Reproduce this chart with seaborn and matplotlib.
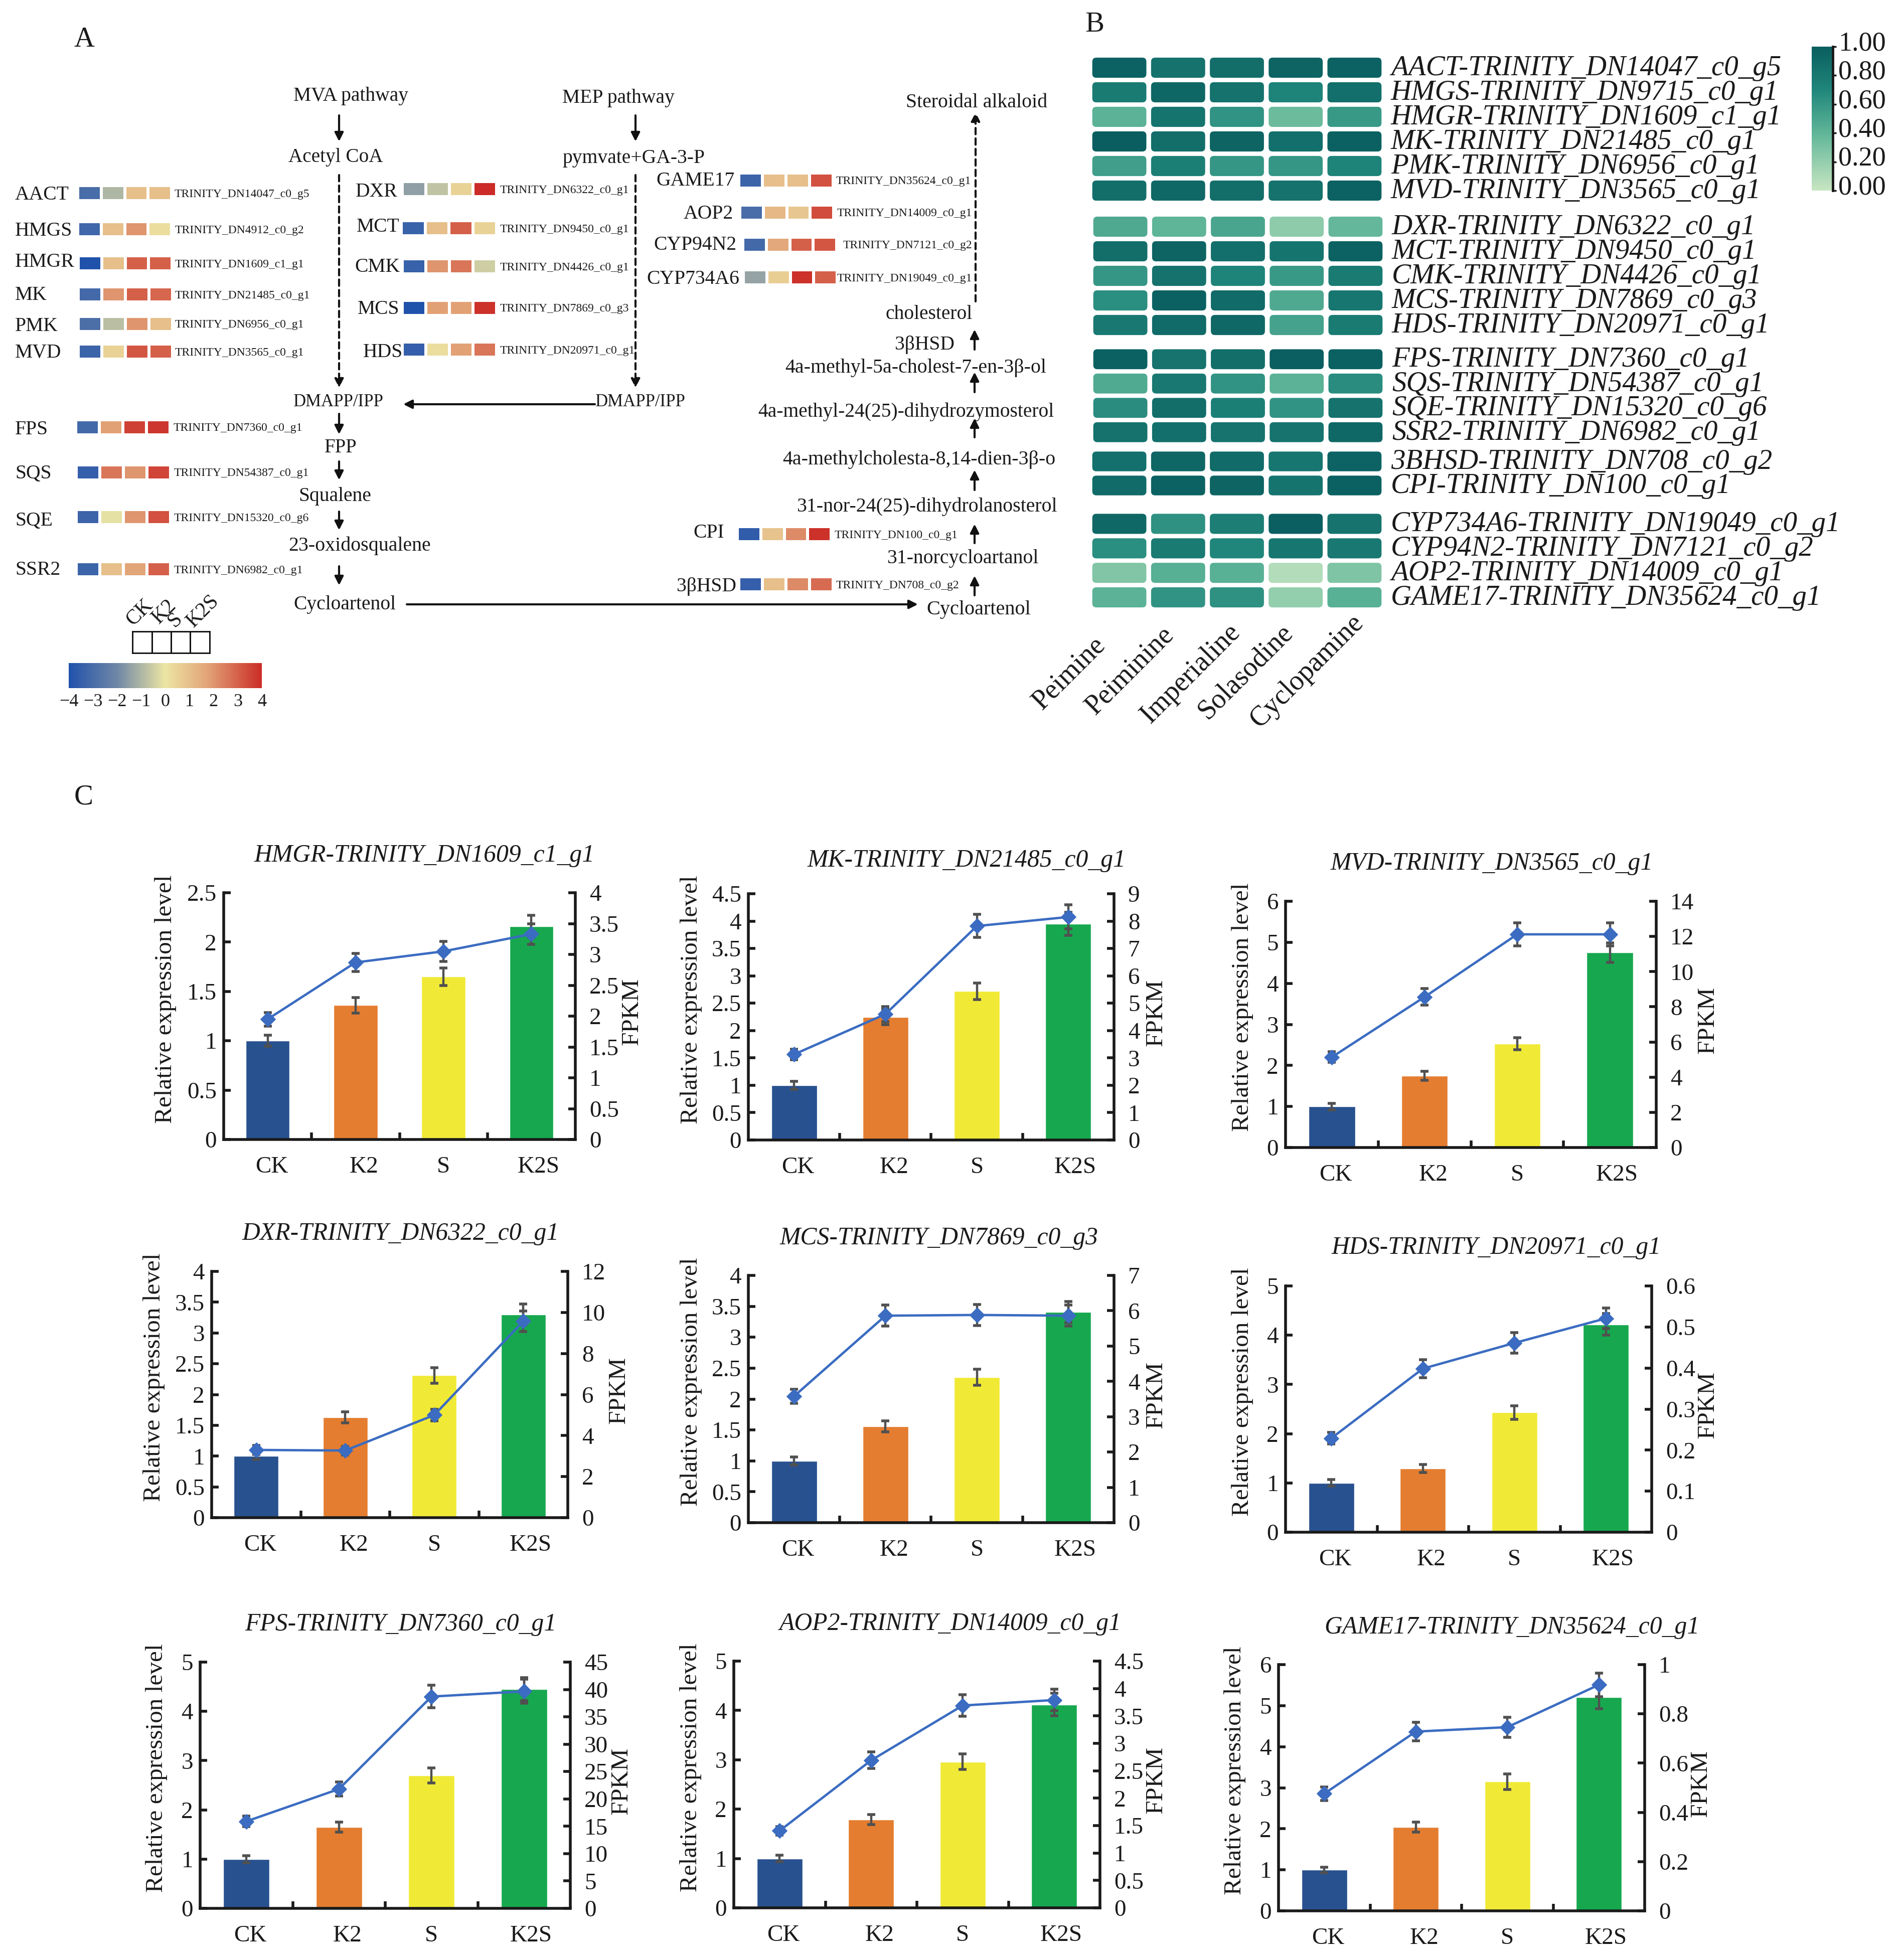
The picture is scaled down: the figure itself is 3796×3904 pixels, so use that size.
import matplotlib
matplotlib.use("Agg")
import matplotlib.pyplot as plt
import numpy as np
import seaborn as sns
from matplotlib.colors import LinearSegmentedColormap
from matplotlib.patches import FancyBboxPatch
from matplotlib.transforms import ScaledTranslation

W, H = 3796, 3904
DPI = 100

sns.set_theme(style="ticks")
plt.rcParams["font.family"] = ["Liberation Serif", "DejaVu Serif"]
plt.rcParams["text.color"] = "#1a1a1a"
plt.rcParams["axes.labelcolor"] = "#1a1a1a"
plt.rcParams["xtick.color"] = "#1a1a1a"
plt.rcParams["ytick.color"] = "#1a1a1a"

# panel A: z-scores CK, K2, S, K2S
strip_names = ["AACT", "HMGS", "HMGR", "MK", "PMK", "MVD", "DXR", "MCT", "CMK", "MCS", "HDS",
               "FPS", "SQS", "SQE", "SSR2", "GAME17", "AOP2", "CYP94N2", "CYP734A6", "CPI", "3βHSD"]
strip_ids = ["TRINITY_DN14047_c0_g5", "TRINITY_DN4912_c0_g2", "TRINITY_DN1609_c1_g1",
             "TRINITY_DN21485_c0_g1", "TRINITY_DN6956_c0_g1", "TRINITY_DN3565_c0_g1",
             "TRINITY_DN6322_c0_g1", "TRINITY_DN9450_c0_g1", "TRINITY_DN4426_c0_g1",
             "TRINITY_DN7869_c0_g3", "TRINITY_DN20971_c0_g1", "TRINITY_DN7360_c0_g1",
             "TRINITY_DN54387_c0_g1", "TRINITY_DN15320_c0_g6", "TRINITY_DN6982_c0_g1",
             "TRINITY_DN35624_c0_g1", "TRINITY_DN14009_c0_g1", "TRINITY_DN7121_c0_g2",
             "TRINITY_DN19049_c0_g1", "TRINITY_DN100_c0_g1", "TRINITY_DN708_c0_g2"]
strip_values = [[-3, -1, 1, 1], [-3.2, 1, 2, 0.2], [-4, 1, 3, 3], [-3.1, 2, 3, 2.9],
                [-2.9, -0.8, 2, 1], [-3.3, 0.5, 3.2, 3], [-1.5, -0.7, 0.5, 4], [-3.4, 1, 3, 0.5],
                [-3.4, 2, 2.6, -0.5], [-4, 1.8, 1.8, 3.9], [-3.5, 0.2, 1.8, 2.6],
                [-3.1, 1.8, 3.6, 3.8], [-3.5, 2.6, 2, 3.5], [-3.3, -0.1, 2, 3.3],
                [-3.3, 1, 1.7, 3], [-3.3, 1, 1, 3.3], [-3, 1.2, 0.8, 3.4], [-3.1, 1.6, 3, 3.2],
                [-1.4, 0.6, 3.9, 3], [-3.6, 0.9, 2.2, 3.9], [-3.5, 1, 2.2, 2.8]]

# strip left, strip right, strip y, name x, name y, id x
strip_layout = [(157, 340, 385, 30, 385, 348), (157, 340, 457, 30, 457, 349), (158, 341, 525, 30, 520, 349),
                (158, 342, 587, 30, 586, 349), (158, 342, 646, 30, 648, 349), (158, 342, 701, 30, 701, 349),
                (804, 988, 377, 709, 379, 997), (802, 988, 455, 711, 450, 997), (804, 988, 531, 707, 529, 997),
                (804, 988, 614, 713, 613, 997), (804, 988, 697, 724, 700, 997),
                (153, 337, 852, 30, 854, 346), (154, 338, 942, 30, 941, 347), (154, 338, 1031, 30, 1036, 347),
                (154, 338, 1135, 30, 1134, 347),
                (1475, 1659, 360, 1465, 358, 1667), (1477, 1660, 424, 1462, 423, 1669),
                (1483, 1666, 488, 1468, 486, 1681), (1484, 1667, 553, 1474, 553, 1669),
                (1472, 1655, 1065, 1444, 1059, 1664), (1475, 1659, 1165, 1468, 1167, 1667)]

# panel B heat map groups
compounds = ["Peimine", "Peiminine", "Imperialine", "Solasodine", "Cyclopamine"]
compound_shift = [(-55, 25), (-35, 5), (-20, 0), (-32, 0), (-8, -20)]
group1_labels = ["AACT-TRINITY_DN14047_c0_g5", "HMGS-TRINITY_DN9715_c0_g1", "HMGR-TRINITY_DN1609_c1_g1",
                 "MK-TRINITY_DN21485_c0_g1", "PMK-TRINITY_DN6956_c0_g1", "MVD-TRINITY_DN3565_c0_g1"]
group1_values = [[.97, .85, .88, .95, .97], [.78, .93, .85, .72, .87], [.42, .83, .62, .35, .58],
                 [1.0, .88, .95, .87, .98], [.55, .75, .6, .6, .72], [.88, .92, .88, .85, .97]]
group2_labels = ["DXR-TRINITY_DN6322_c0_g1", "MCT-TRINITY_DN9450_c0_g1", "CMK-TRINITY_DN4426_c0_g1",
                 "MCS-TRINITY_DN7869_c0_g3", "HDS-TRINITY_DN20971_c0_g1"]
group2_values = [[.48, .4, .5, .22, .38], [.88, .95, .87, .83, .97], [.6, .85, .72, .58, .78],
                 [.65, .98, .9, .48, .82], [.8, .9, .92, .52, .78]]
group3_labels = ["FPS-TRINITY_DN7360_c0_g1", "SQS-TRINITY_DN54387_c0_g1",
                 "SQE-TRINITY_DN15320_c0_g6", "SSR2-TRINITY_DN6982_c0_g1"]
group3_values = [[.98, .84, .88, .99, .98], [.47, .8, .62, .42, .66],
                 [.66, .88, .75, .62, .85], [.85, .87, .84, .84, .92]]
group4_labels = ["3BHSD-TRINITY_DN708_c0_g2", "CPI-TRINITY_DN100_c0_g1"]
group4_values = [[.86, .93, .9, .82, .96], [.9, .97, .95, .83, .98]]
group5_labels = ["CYP734A6-TRINITY_DN19049_c0_g1", "CYP94N2-TRINITY_DN7121_c0_g2",
                 "AOP2-TRINITY_DN14009_c0_g1", "GAME17-TRINITY_DN35624_c0_g1"]
group5_values = [[.92, .63, .76, .99, .84], [.65, .78, .7, .82, .8],
                 [.27, .44, .43, .08, .28], [.42, .62, .63, .2, .43]]
# labels, values, left, right, top, bottom (px)
heat_groups = [(group1_labels, group1_values, 2173, 2759, 110.5, 404.5),
               (group2_labels, group2_values, 2175, 2761, 427.5, 672.5),
               (group3_labels, group3_values, 2175, 2761, 692, 886),
               (group4_labels, group4_values, 2173, 2759, 896, 992),
               (group5_labels, group5_values, 2173, 2759, 1020, 1215.5)]

# panel C
groups = ["CK", "K2", "S", "K2S"]
bar_colors = ["#28518f", "#e47d30", "#f0ea36", "#17a84f"]

hmgr_bar, hmgr_bar_err = [1, 1.36, 1.65, 2.16], [.055, .077, .09, .11]
hmgr_fpkm, hmgr_fpkm_err = [1.95, 2.87, 3.05, 3.33], [.11, .15, .16, .165]
mk_bar, mk_bar_err = [1, 2.25, 2.72, 3.95], [.07, .14, .15, .215]
mk_fpkm, mk_fpkm_err = [3.13, 4.6, 7.82, 8.15], [.19, .28, .42, .44]
mvd_bar, mvd_bar_err = [1, 1.75, 2.53, 4.75], [.08, .11, .15, .24]
mvd_fpkm, mvd_fpkm_err = [5.14, 8.56, 12.12, 12.12], [.3, .47, .65, .65]
dxr_bar, dxr_bar_err = [1, 1.63, 2.31, 3.3], [.054, .09, .125, .17]
dxr_fpkm, dxr_fpkm_err = [3.3, 3.27, 5.0, 9.57], [.22, .21, .29, .51]
mcs_bar, mcs_bar_err = [1, 1.56, 2.35, 3.41], [.066, .09, .13, .17]
mcs_fpkm, mcs_fpkm_err = [3.58, 5.86, 5.88, 5.86], [.2, .3, .3, .3]
hds_bar, hds_bar_err = [1, 1.29, 2.43, 4.22], [.067, .08, .14, .22]
hds_fpkm, hds_fpkm_err = [.229, .3985, .461, .521], [.0137, .022, .025, .025]
fps_bar, fps_bar_err = [1, 1.65, 2.7, 4.45], [.07, .10, .155, .23]
fps_fpkm, fps_fpkm_err = [15.9, 21.8, 38.7, 39.65], [.95, 1.3, 2.05, 2.2]
aop2_bar, aop2_bar_err = [1, 1.79, 2.96, 4.12], [.07, .105, .16, .23]
aop2_fpkm, aop2_fpkm_err = [1.405, 2.69, 3.69, 3.79], [.08, .15, .195, .2]
game17_bar, game17_bar_err = [1, 2.04, 3.15, 5.2], [.066, .12, .19, .27]
game17_fpkm, game17_fpkm_err = [.476, .728, .746, .918], [.027, .038, .041, .048]

left_half_25 = [0, .5, 1, 1.5, 2, 2.5]
left_half_45 = [0, .5, 1, 1.5, 2, 2.5, 3, 3.5, 4, 4.5]
left_half_4 = [0, .5, 1, 1.5, 2, 2.5, 3, 3.5, 4]
left_5 = [0, 1, 2, 3, 4, 5]
left_6 = [0, 1, 2, 3, 4, 5, 6]

# title, bars, bar err, fpkm, fpkm err, left ticks, right ticks,
# box (l, r, t, b), ylabel dx, fpkm dx, title dx, title dy
panels = [
    ("HMGR-TRINITY_DN1609_c1_g1", hmgr_bar, hmgr_bar_err, hmgr_fpkm, hmgr_fpkm_err, left_half_25,
     [0, .5, 1, 1.5, 2, 2.5, 3, 3.5, 4], (446, 1147, 1780, 2272), -118, 113, 50, 76),
    ("MK-TRINITY_DN21485_c0_g1", mk_bar, mk_bar_err, mk_fpkm, mk_fpkm_err, left_half_45,
     list(range(0, 10)), (1492, 2221, 1782, 2273), -116, 84, 71, 68),
    ("MVD-TRINITY_DN3565_c0_g1", mvd_bar, mvd_bar_err, mvd_fpkm, mvd_fpkm_err, left_6,
     [0, 2, 4, 6, 8, 10, 12, 14], (2563, 3302, 1797, 2288), -88, 103, 42, 77),
    ("DXR-TRINITY_DN6322_c0_g1", dxr_bar, dxr_bar_err, dxr_fpkm, dxr_fpkm_err, left_half_4,
     [0, 2, 4, 6, 8, 10, 12], (422, 1132, 2535, 3026), -117, 102, 22, 77),
    ("MCS-TRINITY_DN7869_c0_g3", mcs_bar, mcs_bar_err, mcs_fpkm, mcs_fpkm_err, left_half_4,
     list(range(0, 8)), (1492, 2221, 2543, 3036), -116, 84, 16, 76),
    ("HDS-TRINITY_DN20971_c0_g1", hds_bar, hds_bar_err, hds_fpkm, hds_fpkm_err, left_5,
     [0, .1, .2, .3, .4, .5, .6], (2563, 3293, 2564, 3055), -88, 112, 55, 78),
    ("FPS-TRINITY_DN7360_c0_g1", fps_bar, fps_bar_err, fps_fpkm, fps_fpkm_err, left_5,
     list(range(0, 50, 5)), (399, 1137, 3314, 3805), -89, 102, 31, 77),
    ("AOP2-TRINITY_DN14009_c0_g1", aop2_bar, aop2_bar_err, aop2_fpkm, aop2_fpkm_err, left_5,
     [0, .5, 1, 1.5, 2, 2.5, 3, 3.5, 4, 4.5], (1463, 2193, 3312, 3804), -88, 112, 67, 76),
    ("GAME17-TRINITY_DN35624_c0_g1", game17_bar, game17_bar_err, game17_fpkm, game17_fpkm_err, left_6,
     [0, .2, .4, .6, .8, 1], (2549, 3279, 3319, 3810), -89, 112, 100, 76),
]

# pathway text: label, left x, y, size
pathway_text = [("MVA pathway", 585, 188, 28.5), ("MEP pathway", 1121, 193, 28.5), ("Acetyl CoA", 575, 311, 28.3),
                ("pymvate+GA-3-P", 1121, 313, 28.5), ("DMAPP/IPP", 585, 799, 25), ("DMAPP/IPP", 1187, 799, 25),
                ("FPP", 647, 890, 28), ("Squalene", 595, 986, 28.5), ("23-oxidosqualene", 575, 1085, 28.7),
                ("Cycloartenol", 585, 1203, 28.5), ("Cycloartenol", 1847, 1212, 29),
                ("31-norcycloartanol", 1768, 1111, 28.6), ("31-nor-24(25)-dihydrolanosterol", 1589, 1007, 28.7),
                ("4a-methylcholesta-8,14-dien-3β-o", 1560, 913, 28.7),
                ("4a-methyl-24(25)-dihydrozymosterol", 1511, 818, 28.5),
                ("4a-methyl-5a-cholest-7-en-3β-ol", 1565, 731, 28.7), ("3βHSD", 1784, 684, 28.5),
                ("cholesterol", 1766, 624, 28.5), ("Steroidal alkaloid", 1806, 201, 28.7)]
# arrows: x0, y0, x1, y1, dashed
pathway_arrows = [(676, 230, 676, 282, False), (1267, 230, 1267, 282, False),
                  (676, 349, 676, 773, True), (1267, 349, 1267, 773, True),
                  (1186, 806, 804, 806, False), (676, 825, 676, 866, False), (676, 920, 676, 957, False),
                  (676, 1020, 676, 1057, False), (676, 1129, 676, 1167, False), (811, 1205, 1830, 1205, False),
                  (1943, 1187, 1943, 1148, False), (1943, 1083, 1943, 1045, False), (1943, 977, 1943, 937, False),
                  (1943, 872, 1943, 834, False), (1943, 782, 1943, 742, False), (1943, 697, 1943, 657, False),
                  (1945, 601, 1945, 224, True)]

cmap_z = LinearSegmentedColormap.from_list(
    "z", [(0, "#2152ab"), (.25, "#6f87a6"), (.5, "#ece5a3"), (.72, "#e2a377"), (1, "#cb2c27")])
cmap_heat = LinearSegmentedColormap.from_list(
    "heat", [(0, "#c8e6c2"), (.4, "#5fb598"), (.7, "#20867b"), (1, "#0a5e5f")])

fig = plt.figure(figsize=(W / DPI, H / DPI), dpi=DPI, facecolor="white")


def px_axes(l, r, t, b, **kw):
    return fig.add_axes([l / W, 1 - b / H, (r - l) / W, (b - t) / H], **kw)


def shift(label, dx, dy):
    label.set_transform(label.get_transform() + ScaledTranslation(dx / DPI, -dy / DPI, fig.dpi_scale_trans))


# overlay in image pixels for the pathway drawing
bg = px_axes(0, W, 0, H)
bg.set_xlim(0, W)
bg.set_ylim(H, 0)
bg.axis("off")

for letter, x, y in [("A", 168, 79), ("B", 2182, 49), ("C", 167, 1590)]:
    bg.text(x, y, letter, fontsize=41, ha="center", va="center")
for s, x, y, size in pathway_text:
    bg.text(x, y + 3, s, fontsize=size, ha="left", va="center")
for x0, y0, x1, y1, dashed in pathway_arrows:
    bg.annotate("", xy=(x1, y1), xytext=(x0, y0),
                arrowprops=dict(arrowstyle="-|>", color="#111111", lw=3, mutation_scale=26, shrinkA=0, shrinkB=0,
                                linestyle=(0, (3, 2)) if dashed else "-"))

# strips of panel A
cax_z = px_axes(137, 522, 1322, 1372)
for i, (name, gene, vals, lay) in enumerate(zip(strip_names, strip_ids, strip_values, strip_layout)):
    x0, x1, yc, nx, ny, idx = lay
    a = px_axes(x0 - 2, x1 + 2, yc - 15, yc + 15)
    sns.heatmap(np.array([vals]), cmap=cmap_z, vmin=-4, vmax=4, linewidths=4, linecolor="white",
                xticklabels=False, yticklabels=False, ax=a,
                cbar=i == 0, cbar_ax=cax_z if i == 0 else None,
                cbar_kws={"orientation": "horizontal", "ticks": [-4, -3, -2, -1, 0, 1, 2, 3, 4]} if i == 0 else None)
    bg.text(nx, ny + 3, name, fontsize=28.5, ha="right" if i >= 15 else "left", va="center")
    bg.text(idx, yc + 2, gene, fontsize=17, ha="left", va="center")

cax_z.tick_params(axis="x", length=0, labelsize=26, pad=8)
for sp in cax_z.spines.values():
    sp.set_visible(False)

# small CK/K2/S/K2S key
key = px_axes(264, 418, 1259, 1302)
sns.heatmap(np.zeros((1, 4)), cmap=["white"], cbar=False, linewidths=2, linecolor="#111111",
            xticklabels=False, yticklabels=False, ax=key)
for sp in key.spines.values():
    sp.set_visible(True)
    sp.set_linewidth(2)
    sp.set_color("#111111")
for s, x, y in [("CK", 265, 1249), ("K2", 317, 1245), ("S", 348, 1252), ("K2S", 386, 1252)]:
    bg.text(x, y, s, fontsize=30, rotation=45, ha="left", va="baseline", rotation_mode="anchor")

# panel B
cax_heat = px_axes(3612, 3654, 93, 380)
for i, (labels, vals, l, r, t, b) in enumerate(heat_groups):
    a = px_axes(l, r, t, b)
    last = i == len(heat_groups) - 1
    sns.heatmap(np.array(vals), cmap=cmap_heat, vmin=0, vmax=1, ax=a, yticklabels=labels,
                xticklabels=compounds if last else False,
                cbar=i == 0, cbar_ax=cax_heat if i == 0 else None)
    a.collections[0].set_visible(False)
    unit_x = (r - l) / 5
    unit_y = (b - t) / len(labels)
    rad = 8 / unit_x
    aspect = (8 / unit_y) / rad
    for row, rv in enumerate(vals):
        for col, v in enumerate(rv):
            a.add_patch(FancyBboxPatch((col + .04, row + .09), .92, .82,
                                       boxstyle=f"round,pad=0,rounding_size={rad}", mutation_aspect=aspect,
                                       facecolor=cmap_heat(v), edgecolor="none"))
    a.yaxis.tick_right()
    a.tick_params(axis="y", length=0, pad=10, labelsize=41, labelrotation=0)
    for lab in a.get_yticklabels():
        lab.set_fontstyle("italic")
        shift(lab, 0, -5)
    if last:
        a.tick_params(axis="x", length=0, pad=14, labelsize=40)
        for lab, (dx, dy) in zip(a.get_xticklabels(), compound_shift):
            lab.set_rotation(45)
            lab.set_ha("right")
            lab.set_rotation_mode("anchor")
            shift(lab, dx, dy)

cax_heat.set_yticks([0, .2, .4, .6, .8, 1])
cax_heat.set_yticklabels(["0.00", "0.20", "0.40", "0.60", "0.80", "1.00"])
cax_heat.tick_params(axis="y", direction="out", length=5, width=2.5, labelsize=39, pad=3, color="k")
for lab in cax_heat.get_yticklabels():
    shift(lab, 0, -12)
for side, sp in cax_heat.spines.items():
    sp.set_visible(side == "right")
    if side == "right":
        sp.set_linewidth(3.5)
        sp.set_color("k")

# panel C
x_pos = [0, 1, 2, 3]
for title, bars, bar_err, fpkm, fpkm_err, lticks, rticks, box, ylab_dx, fpkm_dx, title_dx, title_dy in panels:
    l, r, t, b = box
    w_px, h_px = r - l, b - t
    ax = px_axes(l, r, t, b)
    ax.patch.set_alpha(0)
    sns.barplot(x=groups, y=bars, hue=groups, palette=bar_colors, width=.5, saturation=1,
                dodge=False, legend=False, ax=ax)
    ax.errorbar(x_pos, bars, yerr=bar_err, fmt="none", ecolor="#505050", elinewidth=3.2, capsize=5.5, capthick=4, zorder=5)

    ax.set_xlim(-.5, 3.5)
    ax.set_ylim(lticks[0], lticks[-1])
    ax.set_yticks(lticks)
    ax.set_yticklabels([f"{v:g}" for v in lticks])
    ax.set_xticks(x_pos)
    ax.set_xticklabels(groups)
    ax.set_xticks([.5, 1.5, 2.5], minor=True)
    ax.tick_params(axis="x", which="major", length=0, labelsize=34, pad=24)
    ax.tick_params(axis="x", which="minor", direction="in", length=10, width=4, top=False, color="k")
    ax.tick_params(axis="y", direction="in", length=10, width=4, labelsize=34, pad=10, right=False, color="k")
    for lab, dx in zip(ax.get_xticklabels(), [8, 17, 0, 14]):
        shift(lab, dx, 0)
    ax.spines["top"].set_visible(False)
    ax.spines["right"].set_visible(False)
    ax.spines["left"].set_linewidth(4)
    ax.spines["bottom"].set_linewidth(4)
    ax.spines["left"].set_color("k")
    ax.spines["bottom"].set_color("k")
    ax.set_ylabel("Relative expression level", fontsize=35.5)
    ax.yaxis.set_label_coords((ylab_dx + 24) / w_px, .5 + 34 / h_px)
    ax.set_xlabel("")

    ax2 = ax.twinx()
    ax2.patch.set_alpha(0)
    ax2.errorbar(x_pos, fpkm, yerr=fpkm_err, fmt="none", ecolor="#505050", elinewidth=3.2, capsize=5.5, capthick=4, zorder=2)
    sns.lineplot(x=x_pos, y=fpkm, color="#3b6cc1", lw=3.4, marker="D", markersize=15, markeredgecolor="#3b6cc1",
                 errorbar=None, ax=ax2, zorder=3)
    ax2.set_xlim(-.5, 3.5)
    ax2.set_ylim(rticks[0], rticks[-1])
    ax2.set_yticks(rticks)
    ax2.set_yticklabels([f"{v:g}" for v in rticks])
    ax2.tick_params(axis="y", direction="in", length=10, width=4, labelsize=34, pad=20, left=False, right=True, color="k")
    for side in ("top", "left", "bottom"):
        ax2.spines[side].set_visible(False)
    ax2.spines["right"].set_linewidth(4)
    ax2.spines["right"].set_color("k")
    ax2.set_ylabel("FPKM", fontsize=35.5, rotation=90)
    ax2.yaxis.set_label_coords(1 + (fpkm_dx - 22) / w_px, .5 + 9 / h_px)

    bg.text((l + r) / 2 + title_dx, t - title_dy + 2, title, fontsize=35.7, style="italic", ha="center", va="center")

fig.savefig("out.png", dpi=DPI, facecolor="white")
